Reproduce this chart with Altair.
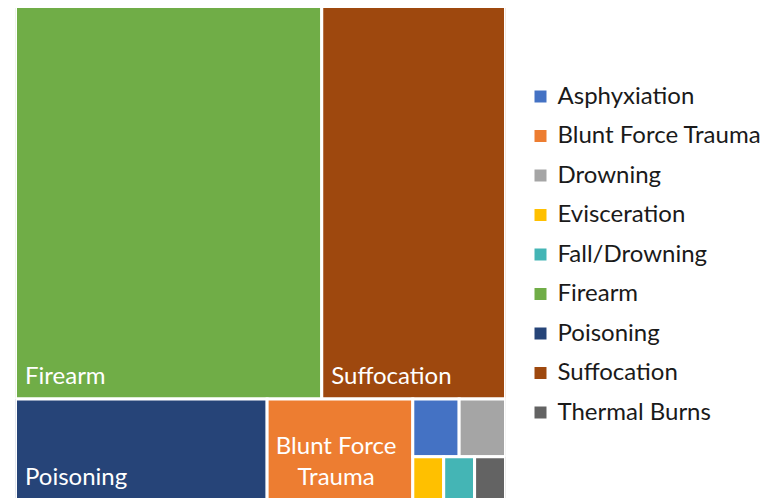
import altair as alt
import pandas as pd

# ---- data -------------------------------------------------------------
categories = ["Firearm", "Suffocation", "Poisoning", "Blunt Force Trauma",
              "Asphyxiation", "Drowning", "Evisceration", "Fall/Drowning",
              "Thermal Burns"]
counts = [90, 54, 19, 11, 2, 2, 1, 1, 1]

legend_order = ["Asphyxiation", "Blunt Force Trauma", "Drowning", "Evisceration",
                "Fall/Drowning", "Firearm", "Poisoning", "Suffocation",
                "Thermal Burns"]
legend_colors = ["#4472C4", "#ED7D31", "#A5A5A5", "#FFC000", "#44B5B5",
                 "#70AD47", "#264478", "#9E480E", "#636363"]

# ---- squarified treemap layout (average aspect criterion) -------------
BOX_W, BOX_H = 490.0, 494.0


def squarify(vals, x, y, w, h):
    total = float(sum(vals))
    areas = [v / total * w * h for v in vals]
    out = []
    i = 0
    while i < len(areas):
        short = min(w, h)
        horiz = w <= h

        def avg_aspect(row):
            t = sum(row) / short
            asp = [max((a / t) / t, t / (a / t)) for a in row]
            return sum(asp) / len(asp)

        j = i + 1
        while j < len(areas) and avg_aspect(areas[i:j + 1]) <= avg_aspect(areas[i:j]):
            j += 1
        row = areas[i:j]
        t = sum(row) / short
        pos = 0.0
        for a in row:
            L = a / t
            if horiz:
                out.append((x + pos, y, x + pos + L, y + t))
            else:
                out.append((x, y + pos, x + t, y + pos + L))
            pos += L
        if horiz:
            y += t
            h -= t
        else:
            x += t
            w -= t
        i = j
    return out


rects = squarify(counts, 0.0, 0.0, BOX_W, BOX_H)
df = pd.DataFrame({
    "cat": categories,
    "count": counts,
    "x0": [r[0] for r in rects],
    "y0": [r[1] for r in rects],
    "x1": [r[2] for r in rects],
    "y1": [r[3] for r in rects],
})

# labels (large tiles only), anchored bottom-left of each tile
single = df[df["cat"].isin(["Firearm", "Suffocation", "Poisoning"])].copy()
single["lx"] = single["x0"] + 9.5
single["ly"] = single["y1"] - 15.5

bft = df[df["cat"] == "Blunt Force Trauma"].iloc[0]
multi = pd.DataFrame({
    "txt": ["Blunt Force", "Trauma"],
    "lx": [bft["x0"] + 69] * 2,
    "ly": [bft["y1"] - 15.5 - 31, bft["y1"] - 15.5],
})

FONT = "Lato"
FS = 24

xs = alt.Scale(domain=[0, BOX_W], nice=False, zero=False)
ys = alt.Scale(domain=[2, 492], nice=False, zero=False, reverse=True)

tiles = alt.Chart(df).mark_rect(stroke="white", strokeWidth=3, clip=True).encode(
    x=alt.X("x0:Q", scale=xs, axis=None),
    x2="x1:Q",
    y=alt.Y("y0:Q", scale=ys, axis=None),
    y2="y1:Q",
    color=alt.Color(
        "cat:N",
        scale=alt.Scale(domain=legend_order, range=legend_colors),
        legend=alt.Legend(
            title=None, orient="none", legendX=513, legendY=76.5,
            symbolType="square", symbolSize=144, symbolStrokeWidth=0,
            labelFont=FONT, labelFontSize=FS, labelColor="#1a1a1a",
            labelOffset=5, rowPadding=15.5, labelLimit=300,
        ),
    ),
)

lab1 = alt.Chart(single).mark_text(
    align="left", baseline="alphabetic", color="white", font=FONT, fontSize=FS
).encode(
    x=alt.X("lx:Q", scale=xs), y=alt.Y("ly:Q", scale=ys), text="cat:N"
)

lab2 = alt.Chart(multi).mark_text(
    align="center", baseline="alphabetic", color="white", font=FONT, fontSize=FS
).encode(
    x=alt.X("lx:Q", scale=xs), y=alt.Y("ly:Q", scale=ys), text="txt:N"
)

chart = alt.layer(tiles, lab1, lab2).properties(
    width=490, height=490,
    padding={"left": 7.5, "top": 0, "right": 5, "bottom": 0},
).configure_view(stroke=None)

chart.save("out.html", embed_options={"renderer": "svg", "actions": False})
